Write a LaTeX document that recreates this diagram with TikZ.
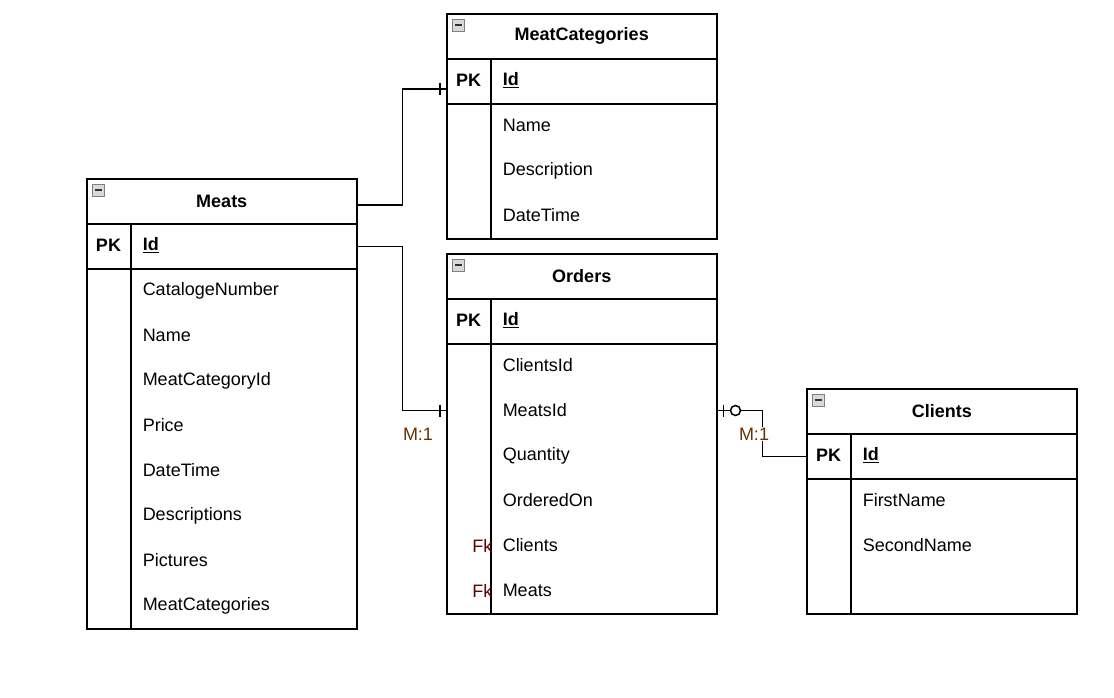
\documentclass[tikz,border=0pt]{standalone}
\usepackage{fontspec}
\setmainfont{Liberation Sans}
\definecolor{fkred}{RGB}{102,0,0}
\definecolor{cardbrown}{RGB}{102,51,0}

\begin{document}
\begin{tikzpicture}[x=1pt,y=-1pt,line width=1.5pt,
		every node/.style={font=\fontsize{18}{22}\selectfont},
		head/.style={draw, anchor=north west, minimum width=270pt, minimum height=45pt, inner sep=0pt, font=\fontsize{18}{22}\selectfont\bfseries},
		cell/.style={draw, anchor=north west, minimum width=270pt, minimum height=#1, inner sep=0pt},
		field/.style={anchor=west, inner sep=0pt},
		key/.style={inner sep=0pt, font=\fontsize{18}{22}\selectfont\bfseries},
		fk/.style={anchor=east, inner sep=0pt, text=fkred},
		card/.style={inner sep=1pt, fill=white, text=cardbrown}]
			\useasboundingbox (0,0) rectangle (1114,697);
			
			% Meats
			\node[head] (meats) at (86,178) {Meats};
			\node[cell=45pt] (meats-pk) at (86,223) {};
			\node[cell=360pt] (meats-body) at (86,268) {};
			\draw ([xshift=45pt]meats-pk.north west) -- ([xshift=45pt]meats-body.south west);
			\node[key] at (108.5,245.5) {PK};
			\node[field] (meats-id) at (142,245.5) {\textbf{\underline{Id}}};
			\foreach \t [count=\i] in {CatalogeNumber,Name,MeatCategoryId,Price,DateTime,Descriptions,Pictures,MeatCategories}
				\node[field] at (142,{245.5+45*\i}) {\t};
			
			% MeatCategories
			\node[head] (mc) at (446,13) {MeatCategories};
			\node[cell=45pt] (mc-pk) at (446,58) {};
			\node[cell=135pt] (mc-body) at (446,103) {};
			\draw ([xshift=45pt]mc-pk.north west) -- ([xshift=45pt]mc-body.south west);
			\node[key] at (468.5,80.5) {PK};
			\node[field] (mc-id) at (502,80.5) {\textbf{\underline{Id}}};
			\foreach \t [count=\i] in {Name,Description,DateTime}
				\node[field] at (502,{80.5+45*\i}) {\t};
			
			% Orders
			\node[head] (orders) at (446,253) {Orders};
			\node[cell=45pt] (orders-pk) at (446,298) {};
			\node[cell=270pt] (orders-body) at (446,343) {};
			\draw ([xshift=45pt]orders-pk.north west) -- ([xshift=45pt]orders-body.south west);
			\node[key] at (468.5,320.5) {PK};
			\node[field] (orders-id) at (502,320.5) {\textbf{\underline{Id}}};
			\node[field] (orders-clientsid) at (502,365.5) {ClientsId};
			\node[field] (orders-meatsid) at (502,410.5) {MeatsId};
			\node[field] (orders-quantity) at (502,455.5) {Quantity};
			\node[field] (orders-orderedon) at (502,500.5) {OrderedOn};
			\node[field] (orders-clients) at (502,545.5) {Clients};
			\node[field] (orders-meats) at (502,590.5) {Meats};
			\node[fk] at (493,545.5) {Fk};
			\node[fk] at (493,590.5) {Fk};
			
			% Clients
			\node[head] (clients) at (806,388) {Clients};
			\node[cell=45pt] (clients-pk) at (806,433) {};
			\node[cell=135pt] (clients-body) at (806,478) {};
			\draw ([xshift=45pt]clients-pk.north west) -- ([xshift=45pt]clients-body.south west);
			\node[key] at (828.5,455.5) {PK};
			\node[field] (clients-id) at (862,455.5) {\textbf{\underline{Id}}};
			\node[field] (clients-first) at (862,500.5) {FirstName};
			\node[field] (clients-second) at (862,545.5) {SecondName};
			
			% collapse icons
			\foreach \x/\y in {86/178,446/13,446/253,806/388} {
				\draw[line width=.8pt, gray, fill=gray!30] (\x+6,\y+6) rectangle ++(12,12);
				\draw[line width=2pt, black!80] (\x+8.5,\y+12) -- ++(7,0);
			}
			
			% relations
			\coordinate (mc-in) at ([yshift=-7.5pt]mc-pk.west);
			\coordinate (orders-in) at (orders-body.west |- orders-meatsid);
			\coordinate (orders-out) at (orders-body.east |- orders-meatsid);
			
			\draw ([yshift=-3.5pt]meats.east) -- ++(45,0) |- (mc-in);
			\draw ([xshift=-6pt]mc-in) ++(0,-6) -- ++(0,12);
			
			\draw (meats-pk.east) -- ++(45,0) |- (orders-in);
			\draw ([xshift=-6pt]orders-in) ++(0,-6) -- ++(0,12);
			\node[card] (card-meats) at (418,434) {M:1};
			
			\draw (orders-out) -- ++(45,0) |- (clients-pk.west);
			\draw ([xshift=6pt]orders-out) ++(0,-6) -- ++(0,12);
			\draw[fill=white] ([xshift=18pt]orders-out) circle (5pt);
			\node[card] (card-clients) at (754,434) {M:1};
		\end{tikzpicture}
\end{document}
